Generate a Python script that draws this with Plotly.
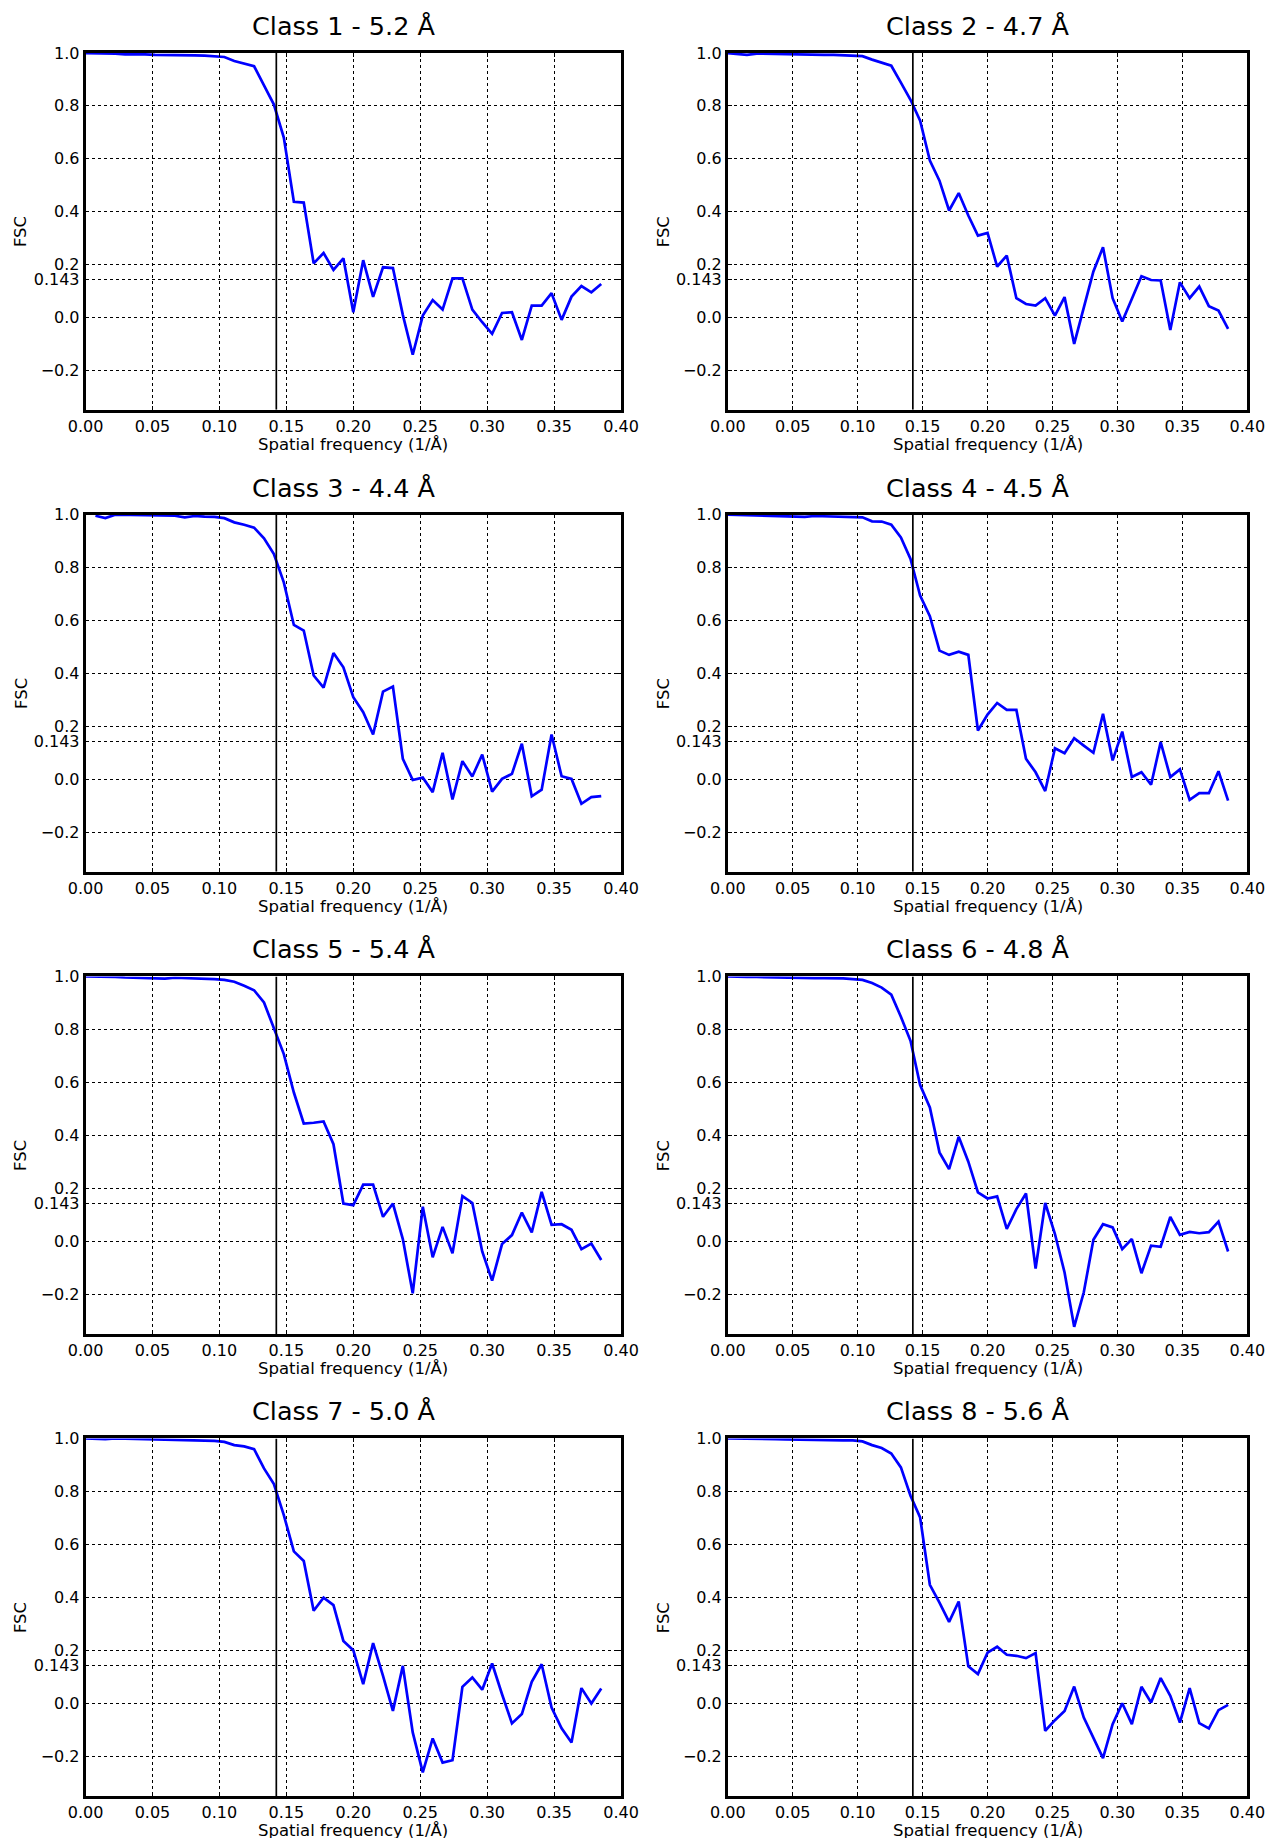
import plotly.graph_objects as go

# ---------------- data ----------------
freq = [0.0000, 0.0074, 0.0148, 0.0222, 0.0296, 0.0370, 0.0444, 0.0519, 0.0593, 0.0667,
        0.0741, 0.0815, 0.0889, 0.0963, 0.1037, 0.1111, 0.1185, 0.1259, 0.1333, 0.1407,
        0.1481, 0.1556, 0.1630, 0.1704, 0.1778, 0.1852, 0.1926, 0.2000, 0.2074, 0.2148,
        0.2222, 0.2296, 0.2370, 0.2444, 0.2519, 0.2593, 0.2667, 0.2741, 0.2815, 0.2889,
        0.2963, 0.3037, 0.3111, 0.3185, 0.3259, 0.3333, 0.3407, 0.3481, 0.3556, 0.3630,
        0.3704, 0.3778, 0.3852]

titles = ["Class 1 - 5.2 Å", "Class 2 - 4.7 Å", "Class 3 - 4.4 Å", "Class 4 - 4.5 Å",
          "Class 5 - 5.4 Å", "Class 6 - 4.8 Å", "Class 7 - 5.0 Å", "Class 8 - 5.6 Å"]

fsc_class1 = [1.0, 1.0, 1.0, 0.998, 0.995, 0.996, 0.995, 0.993, 0.993, 0.993,
              0.992, 0.991, 0.990, 0.988, 0.985, 0.970, 0.960, 0.950, 0.878, 0.805,
              0.680, 0.437, 0.434, 0.204, 0.243, 0.179, 0.223, 0.019, 0.216, 0.077,
              0.189, 0.186, 0.009, -0.142, 0.006, 0.065, 0.029, 0.147, 0.147, 0.029,
              -0.019, -0.063, 0.016, 0.019, -0.086, 0.044, 0.044, 0.091, -0.010, 0.078,
              0.118, 0.094, 0.126]
fsc_class2 = [1.0, 0.997, 0.993, 0.998, 0.997, 0.996, 0.995, 0.995, 0.994, 0.994,
              0.993, 0.993, 0.992, 0.991, 0.988, 0.975, 0.963, 0.952, 0.888, 0.823,
              0.744, 0.593, 0.517, 0.404, 0.470, 0.385, 0.309, 0.319, 0.192, 0.233,
              0.072, 0.050, 0.044, 0.072, 0.006, 0.076, -0.101, 0.040, 0.173, 0.265,
              0.072, -0.016, 0.069, 0.155, 0.141, 0.139, -0.048, 0.132, 0.072, 0.116,
              0.042, 0.025, -0.044]
fsc_class3 = [None, 0.996, 0.987, 1.0, 0.999, 0.998, 0.997, 0.997, 0.996, 0.996,
              0.990, 0.995, 0.993, 0.992, 0.987, 0.971, 0.962, 0.951, 0.911, 0.851,
              0.744, 0.583, 0.562, 0.392, 0.346, 0.477, 0.423, 0.310, 0.253, 0.169,
              0.331, 0.350, 0.077, -0.003, 0.006, -0.049, 0.100, -0.077, 0.068, 0.010,
              0.093, -0.047, 0.001, 0.020, 0.134, -0.065, -0.040, 0.169, 0.011, 0.001,
              -0.093, -0.068, -0.064]
fsc_class4 = [1.0, 0.999, 0.999, 0.999, 0.997, 0.996, 0.995, 0.995, 0.992, 0.995,
              0.994, 0.994, 0.993, 0.993, 0.990, 0.975, 0.974, 0.962, 0.914, 0.833,
              0.694, 0.616, 0.486, 0.470, 0.482, 0.470, 0.184, 0.244, 0.288, 0.262,
              0.262, 0.077, 0.026, -0.045, 0.117, 0.098, 0.155, 0.127, 0.100, 0.247,
              0.071, 0.180, 0.008, 0.026, -0.021, 0.140, 0.008, 0.037, -0.078, -0.053,
              -0.053, 0.030, -0.081]
fsc_class5 = [1.0, 1.0, 0.999, 0.998, 0.996, 0.995, 0.995, 0.994, 0.992, 0.995,
              0.994, 0.993, 0.992, 0.990, 0.987, 0.980, 0.965, 0.948, 0.902, 0.804,
              0.707, 0.562, 0.445, 0.448, 0.453, 0.367, 0.143, 0.137, 0.214, 0.214,
              0.093, 0.143, 0.009, -0.196, 0.131, -0.060, 0.055, -0.045, 0.171, 0.145,
              -0.038, -0.148, -0.010, 0.024, 0.109, 0.034, 0.187, 0.063, 0.065, 0.044,
              -0.029, -0.008, -0.070]
fsc_class6 = [1.0, 0.998, 0.998, 0.998, 0.997, 0.997, 0.996, 0.995, 0.993, 0.994,
              0.994, 0.994, 0.993, 0.990, 0.987, 0.975, 0.958, 0.931, 0.848, 0.757,
              0.590, 0.506, 0.336, 0.273, 0.395, 0.301, 0.185, 0.162, 0.170, 0.047,
              0.122, 0.181, -0.102, 0.145, 0.028, -0.117, -0.322, -0.192, 0.006, 0.065,
              0.053, -0.029, 0.009, -0.120, -0.016, -0.020, 0.093, 0.025, 0.036, 0.031,
              0.035, 0.075, -0.038]
fsc_class7 = [1.0, 0.998, 0.998, 1.0, 0.999, 0.998, 0.998, 0.997, 0.996, 0.995,
              0.994, 0.993, 0.993, 0.991, 0.987, 0.975, 0.970, 0.960, 0.887, 0.828,
              0.711, 0.574, 0.538, 0.350, 0.399, 0.371, 0.236, 0.201, 0.073, 0.228,
              0.104, -0.028, 0.142, -0.109, -0.260, -0.132, -0.223, -0.214, 0.063, 0.098,
              0.052, 0.151, 0.035, -0.075, -0.040, 0.082, 0.148, -0.015, -0.094, -0.147,
              0.058, 0.0, 0.057]
fsc_class8 = [1.0, 1.0, 0.999, 0.999, 0.998, 0.998, 0.997, 0.996, 0.995, 0.995,
              0.994, 0.994, 0.993, 0.993, 0.989, 0.975, 0.964, 0.943, 0.891, 0.784,
              0.702, 0.448, 0.381, 0.308, 0.385, 0.140, 0.111, 0.192, 0.214, 0.184,
              0.180, 0.171, 0.190, -0.103, -0.063, -0.028, 0.064, -0.053, -0.132, -0.206,
              -0.078, 0.001, -0.078, 0.063, 0.004, 0.096, 0.029, -0.072, 0.058, -0.074,
              -0.094, -0.025, -0.005]

series = [fsc_class1, fsc_class2, fsc_class3, fsc_class4,
          fsc_class5, fsc_class6, fsc_class7, fsc_class8]

cutoff_freq = 0.1425
x_tickvals = [0.00, 0.05, 0.10, 0.15, 0.20, 0.25, 0.30, 0.35, 0.40]
y_tickvals = [-0.2, 0.0, 0.143, 0.2, 0.4, 0.6, 0.8, 1.0]
y_ticktext = ["\u22120.2", "0.0", "0.143", "0.2", "0.4", "0.6", "0.8", "1.0"]

# ---------------- layout geometry ----------------
# target positions (pixels of the final 1283x1838 picture)
col_T = [(82, 619), (726, 1247)]
row_T = [(50.7, 407.3), (512.3, 869.3), (974.0, 1331.7), (1436.0, 1793.7)]

OFF = 8                       # default html body margin
W, H = 1300, 1840             # figure size in css px
SX, AX = 0.975, 14.5          # observed page -> picture mapping (x)
SY, AY = 0.995, 6.7           # observed page -> picture mapping (y)
FONT = "DejaVu Sans, Liberation Sans, sans-serif"


def px_x(t):
    page = (t - AX) / SX
    return (page - OFF) / W


def px_y(t):
    page = (t - AY) / SY
    return 1 - (page - OFF) / H


fig = go.Figure()
annotations = []
layout = dict(width=W, height=H, margin=dict(l=0, r=0, t=0, b=0, pad=0),
              paper_bgcolor="white", plot_bgcolor="white", showlegend=False,
              font=dict(family=FONT, size=16, color="black"))

for k in range(8):
    r, c = divmod(k, 2)
    n = k + 1
    xs = "" if n == 1 else str(n)
    x0t, x1t = col_T[c]
    tt, bt = row_T[r]
    xd = [px_x(x0t), px_x(x1t)]
    yd = [px_y(bt), px_y(tt)]

    fig.add_trace(go.Scatter(x=freq, y=series[k], mode="lines",
                             line=dict(color="#0000ff", width=2.7),
                             xaxis="x" + xs, yaxis="y" + xs, hoverinfo="x+y"))
    # vertical cutoff line drawn through the axes' scale
    fig.add_trace(go.Scatter(x=[cutoff_freq, cutoff_freq], y=[-0.35, 1.0], mode="lines",
                             line=dict(color="black", width=1.7),
                             xaxis="x" + xs, yaxis="y" + xs, hoverinfo="skip"))

    common = dict(showline=True, linecolor="black", linewidth=2.6, mirror="allticks",
                  ticks="inside", ticklen=4, tickwidth=1, tickcolor="black",
                  showgrid=True, gridcolor="black", griddash="dot", gridwidth=1,
                  zeroline=False, tickfont=dict(size=16, family=FONT, color="black"),
                  fixedrange=True)
    layout["xaxis" + xs] = dict(domain=xd, anchor="y" + xs, range=[0, 0.4],
                                tickvals=x_tickvals, tickformat=".2f", **common)
    layout["yaxis" + xs] = dict(domain=yd, anchor="x" + xs, range=[-0.35, 1.0],
                                tickvals=y_tickvals, ticktext=y_ticktext, **common)

    cxt = (x0t + x1t) / 2
    annotations.append(dict(text=titles[k], x=px_x(cxt - 10), y=px_y(tt - 27),
                            xref="paper", yref="paper", xanchor="center",
                            yanchor="middle", showarrow=False,
                            font=dict(size=25.5, family=FONT)))
    annotations.append(dict(text="Spatial frequency (1/Å)", x=px_x(cxt),
                            y=px_y(bt + 34.5), xref="paper", yref="paper",
                            xanchor="center", yanchor="middle", showarrow=False,
                            font=dict(size=16.5, family=FONT)))
    annotations.append(dict(text="FSC", x=px_x(x0t - 65), y=(yd[0] + yd[1]) / 2,
                            xref="paper", yref="paper", xanchor="center",
                            yanchor="middle", textangle=-90, showarrow=False,
                            font=dict(size=16.5, family=FONT)))

layout["annotations"] = annotations
fig.update_layout(**layout)
fig.write_html("out.html")
